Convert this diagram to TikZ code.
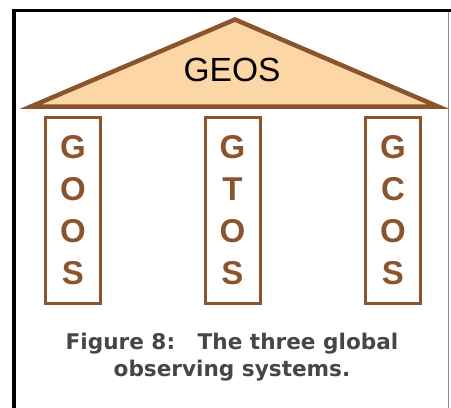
\documentclass[tikz,border=0pt]{standalone}
\usepackage{fontspec}
\setmainfont{Liberation Sans}
\newfontfamily\captionfont{DejaVu Sans}
\usetikzlibrary{positioning}

\definecolor{roofbrown}{RGB}{139,84,44}
\definecolor{roofpeach}{RGB}{253,214,166}
\definecolor{captiongrey}{RGB}{70,70,70}

\tikzset{
    pillar/.style={draw=roofbrown, line width=3pt, text=roofbrown,
        minimum width=55pt, minimum height=186pt, inner sep=0pt,
        align=center, font=\bfseries\fontsize{33}{42}\selectfont},
}

\begin{document}
\begin{tikzpicture}[x=1pt, y=-1pt]

    \useasboundingbox (0, 0) rectangle (451, 408);

    % frame
    \draw[line width=3.5pt] (14, 408) -- (14, 10.5) -- (451, 10.5);
    \draw[line width=0.8pt, black!45] (448, 12) -- (448, 408);

    % roof
    \coordinate (A) at (235, 19.5);
    \coordinate (L) at (31, 106.5);
    \coordinate (R) at (438, 106.5);
    \draw[line width=4.5pt, draw=roofbrown, fill=roofpeach] (L) -- (A) -- (R) -- cycle;
    \node (geos) at (232, 70) {\fontsize{33.5}{40}\selectfont GEOS};

    % pillars
    \node[pillar] (goos) at (73, 210.5) {G\\O\\O\\S};
    \node[pillar] (gtos) at (232.5, 210.5) {G\\T\\O\\S};
    \node[pillar] (gcos) at (393, 210.5) {G\\C\\O\\S};

    % caption
    \node[text=captiongrey, align=center, font=\captionfont\bfseries\fontsize{21.6}{27}\selectfont]
        (caption) at (232, 357) {Figure 8:\ \ \ The three global\\observing systems.};

\end{tikzpicture}
\end{document}
